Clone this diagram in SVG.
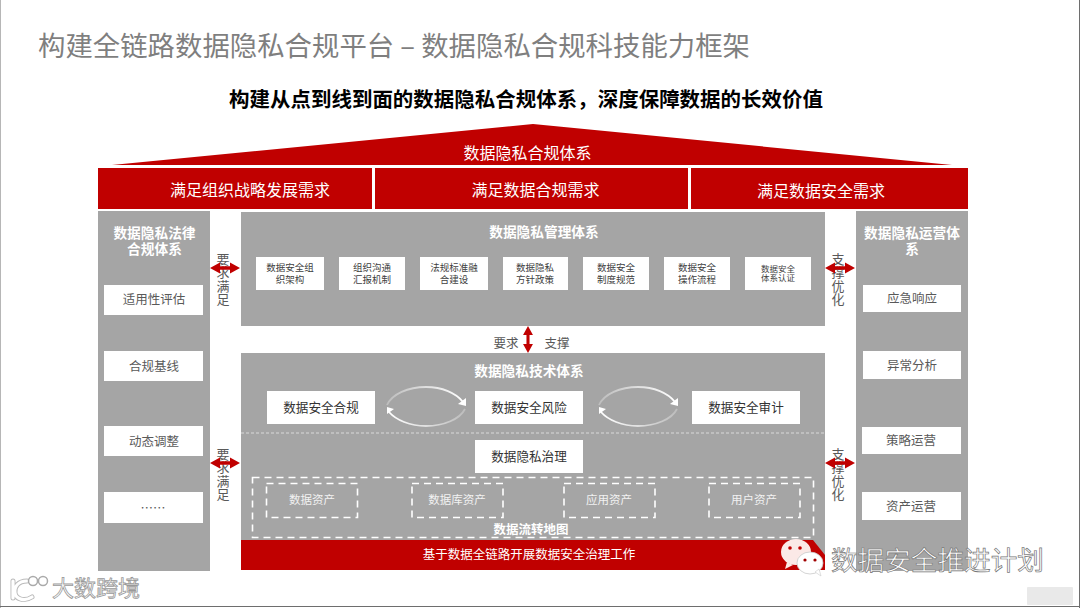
<svg xmlns="http://www.w3.org/2000/svg" width="1080" height="608" viewBox="0 0 1080 608">
<defs>
<style>
text{font-family:"Noto Sans CJK SC","Liberation Sans",sans-serif;text-anchor:middle}
.red{fill:#c00000}.gray{fill:#a5a5a5}.w{fill:#fff}
.hw{fill:#fff;font-size:16px}
.hd{fill:#fff;font-size:13.700px;font-weight:700}
.k{fill:#595959;font-size:12.500px}
.s{fill:#404040;font-size:9.500px}
.t{fill:#333;font-size:12.600px}
.a{fill:#f2f2f2;font-size:11.500px}
.v{fill:#595959;font-size:13px}
.dash{fill:none;stroke:#fff;stroke-width:1.600;stroke-dasharray:7 5}
.arr{fill:#c00000}
.cyc{fill:none;stroke-width:1.800}
.wm{fill:#fff;stroke:#777;stroke-width:.7}
</style>
<linearGradient id="g1" x1="0" x2="1" y1="0" y2="0"><stop offset="0" stop-color="#bdbdbd"/><stop offset="1" stop-color="#fff"/></linearGradient>
<linearGradient id="g2" x1="1" x2="0" y1="0" y2="0"><stop offset="0" stop-color="#bdbdbd"/><stop offset="1" stop-color="#fff"/></linearGradient>
<path id="h" d="M0 0l10-5.500v3.800h10V-5.500l10 5.500-10 5.500V1.700H10V5.500z"/>
</defs>
<rect width="1080" height="608" fill="#fff"/>
<path d="M0 0V608M0 606.500H1080M1079.500 0V608" fill="none" stroke="#6e6e6e" stroke-width="1"/>
<text x="394" y="56" font-size="27" fill="#7f7f7f" textLength="712" lengthAdjust="spacingAndGlyphs">构建全链路数据隐私合规平台 – 数据隐私合规科技能力框架</text>
<text x="526" y="107" font-size="20.500" font-weight="700" fill="#000" textLength="594" lengthAdjust="spacingAndGlyphs">构建从点到线到面的数据隐私合规体系，深度保障数据的长效价值</text>

<g id="roof"><polygon class="red" points="533,124 952,165 112,165"/><text x="527.500" y="159" class="hw">数据隐私合规体系</text></g>
<g id="need1"><rect class="red" x="98" y="168" width="274" height="41"/><text x="250" y="196" class="hw">满足组织战略发展需求</text></g>
<g id="need2"><rect class="red" x="375" y="168" width="313" height="41"/><text x="535.500" y="196" class="hw">满足数据合规需求</text></g>
<g id="need3"><rect class="red" x="691" y="168" width="277" height="41"/><text x="821" y="197" class="hw">满足数据安全需求</text></g>

<g id="legal"><rect class="gray" x="98" y="211" width="112" height="360"/>
<text x="154.500" y="238" class="hd">数据隐私法律</text><text x="154.500" y="254" class="hd">合规体系</text>
<rect class="w" x="104" y="285" width="99" height="30"/><text x="154" y="304" class="k">适用性评估</text>
<rect class="w" x="104" y="351" width="99" height="30"/><text x="154" y="371" class="k">合规基线</text>
<rect class="w" x="104" y="426" width="99" height="30"/><text x="154" y="446" class="k">动态调整</text>
<rect class="w" x="104" y="492" width="99" height="31"/><text x="153" y="513" class="k">……</text></g>

<g id="ops"><rect class="gray" x="856" y="211" width="112" height="360"/>
<text x="912" y="238" class="hd">数据隐私运营体</text><text x="912" y="254" class="hd">系</text>
<rect class="w" x="863" y="285" width="98" height="27"/><text x="912" y="303" class="k">应急响应</text>
<rect class="w" x="863" y="351" width="98" height="28"/><text x="912" y="370" class="k">异常分析</text>
<rect class="w" x="862" y="427" width="99" height="27"/><text x="911" y="445" class="k">策略运营</text>
<rect class="w" x="862" y="492" width="99" height="28"/><text x="911" y="511" class="k">资产运营</text></g>

<g id="mgmt"><rect class="gray" x="241" y="212" width="584" height="114"/>
<text x="544" y="237" class="hd">数据隐私管理体系</text>
<rect class="w" x="256" y="257" width="68" height="33"/><text x="290" y="271" class="s">数据安全组</text><text x="290" y="283" class="s">织架构</text>
<rect class="w" x="339" y="257" width="66" height="33"/><text x="372" y="271" class="s">组织沟通</text><text x="372" y="283" class="s">汇报机制</text>
<rect class="w" x="420" y="257" width="68" height="33"/><text x="454" y="271" class="s">法规标准融</text><text x="454" y="283" class="s">合建设</text>
<rect class="w" x="503" y="257" width="65" height="33"/><text x="535" y="271" class="s">数据隐私</text><text x="535" y="283" class="s">方针政策</text>
<rect class="w" x="583" y="257" width="66" height="33"/><text x="616" y="271" class="s">数据安全</text><text x="616" y="283" class="s">制度规范</text>
<rect class="w" x="664" y="257" width="66" height="33"/><text x="697" y="271" class="s">数据安全</text><text x="697" y="283" class="s">操作流程</text>
<rect class="w" x="745" y="257" width="66" height="33"/><text x="778" y="272" class="s" style="font-size:8.500px">数据安全</text><text x="778" y="281" class="s" style="font-size:8.500px">体系认证</text></g>

<g id="tech"><rect class="gray" x="241" y="353" width="584" height="217"/>
<text x="529" y="376" class="hd">数据隐私技术体系</text>
<rect class="w" x="267" y="391" width="108" height="33"/><text x="321" y="412" class="t">数据安全合规</text>
<rect class="w" x="475" y="391" width="108" height="33"/><text x="529" y="412" class="t">数据安全风险</text>
<rect class="w" x="692" y="391" width="108" height="33"/><text x="746" y="412" class="t">数据安全审计</text>
<line x1="241" y1="433" x2="825" y2="433" stroke="#d9d9d9" stroke-width="1" stroke-dasharray="3 2"/>
<rect class="w" x="475" y="440" width="108" height="33"/><text x="529" y="461" class="t">数据隐私治理</text>
<rect class="dash" x="252.500" y="477.500" width="561" height="60"/>
<rect class="dash" x="266.500" y="483.500" width="91" height="34"/><text x="312" y="504" class="a">数据资产</text>
<rect class="dash" x="412" y="483.500" width="91" height="34"/><text x="457" y="504" class="a">数据库资产</text>
<rect class="dash" x="564" y="483.500" width="91" height="34"/><text x="609" y="504" class="a">应用资产</text>
<rect class="dash" x="709" y="483.500" width="91" height="34"/><text x="754" y="504" class="a">用户资产</text>
<text x="531" y="534" class="hd" style="font-size:12.500px">数据流转地图</text>
<polygon class="red" points="241,540 813,540 825,555 825,570 241,570"/>
<text x="529" y="559" fill="#fff" font-size="12.500">基于数据全链路开展数据安全治理工作</text></g>

<g id="labels">
<text class="v"><tspan x="223" y="264">要</tspan><tspan x="223" y="277.300">求</tspan><tspan x="223" y="290.600">满</tspan><tspan x="223" y="304">足</tspan></text>
<text class="v"><tspan x="223" y="459">要</tspan><tspan x="223" y="472.300">求</tspan><tspan x="223" y="485.600">满</tspan><tspan x="223" y="499">足</tspan></text>
<text class="v"><tspan x="838" y="264">支</tspan><tspan x="838" y="277.300">撑</tspan><tspan x="838" y="290.600">优</tspan><tspan x="838" y="304">化</tspan></text>
<text class="v"><tspan x="838" y="459">支</tspan><tspan x="838" y="472.300">撑</tspan><tspan x="838" y="485.600">优</tspan><tspan x="838" y="499">化</tspan></text>
<text x="506" y="348" class="k">要求</text><text x="557" y="348" class="k">支撑</text>
</g>

<g id="connectors">
<use href="#h" class="arr" x="210" y="268"/>
<use href="#h" class="arr" x="210" y="463"/>
<use href="#h" class="arr" x="825" y="268"/>
<use href="#h" class="arr" x="825" y="463"/>
<use href="#h" class="arr" transform="translate(528 326) rotate(90) scale(.9 .9)"/>
<g id="cycle1">
<path class="cyc" stroke="url(#g1)" d="M387 405C392 394 408 387 426 387C442 387 456 393 463 402"/>
<path class="cyc" stroke="url(#g2)" d="M465 409C460 419 444 426 426 426C410 426 396 420 389 412"/>
<polygon class="w" points="466,398 466,406 458,404"/><polygon class="w" points="387,414 387,407 394,409"/>
</g>
<g id="cycle2">
<path class="cyc" stroke="url(#g1)" d="M599 405C604 394 620 387 638 387C654 387 668 393 675 402"/>
<path class="cyc" stroke="url(#g2)" d="M677 409C672 419 656 426 638 426C622 426 608 420 601 412"/>
<polygon class="w" points="678,398 678,406 670,404"/><polygon class="w" points="599,414 599,407 606,409"/>
</g>
</g>

<g id="watermarks">
<ellipse cx="796" cy="552" rx="15" ry="13" fill="#fbe9e7"/><path d="M787 562l-2 7 8-4z" fill="#fbe9e7"/>
<circle cx="790" cy="548" r="1.800" fill="#c00000"/><circle cx="800" cy="548" r="1.800" fill="#c00000"/>
<ellipse cx="810" cy="563" rx="13" ry="11" fill="#fff" stroke="#c9c9c9" stroke-width=".8"/><path d="M815 572l6 4-2-7z" fill="#fff" stroke="#c9c9c9" stroke-width=".6"/>
<circle cx="805" cy="560" r="1.600" fill="#a00000"/><circle cx="815" cy="560" r="1.600" fill="#a00000"/>
<text x="937.500" y="570" class="wm" font-size="26.500" textLength="213" lengthAdjust="spacingAndGlyphs">数据安全推进计划</text>
<text x="96" y="596" font-size="22" fill="#fff" stroke="#999" stroke-width=".8" textLength="88" lengthAdjust="spacingAndGlyphs">大数跨境</text>
<g fill="none" stroke-linecap="round">
<path d="M13 581v17M27 581c-9 0-13 6-12 12s9 9 17 4" stroke="#bbb" stroke-width="5"/>
<path d="M13 581v17M27 581c-9 0-13 6-12 12s9 9 17 4" stroke="#fff" stroke-width="3.200"/>
</g>
<circle cx="33" cy="581" r="4.500" fill="#fff" stroke="#aaa" stroke-width="1.500"/><circle cx="43" cy="581" r="4.500" fill="#fff" stroke="#aaa" stroke-width="1.500"/>
<rect x="1027" y="587" width="46" height="18" rx="1" fill="#e9e9e9"/>
</g>
</svg>
